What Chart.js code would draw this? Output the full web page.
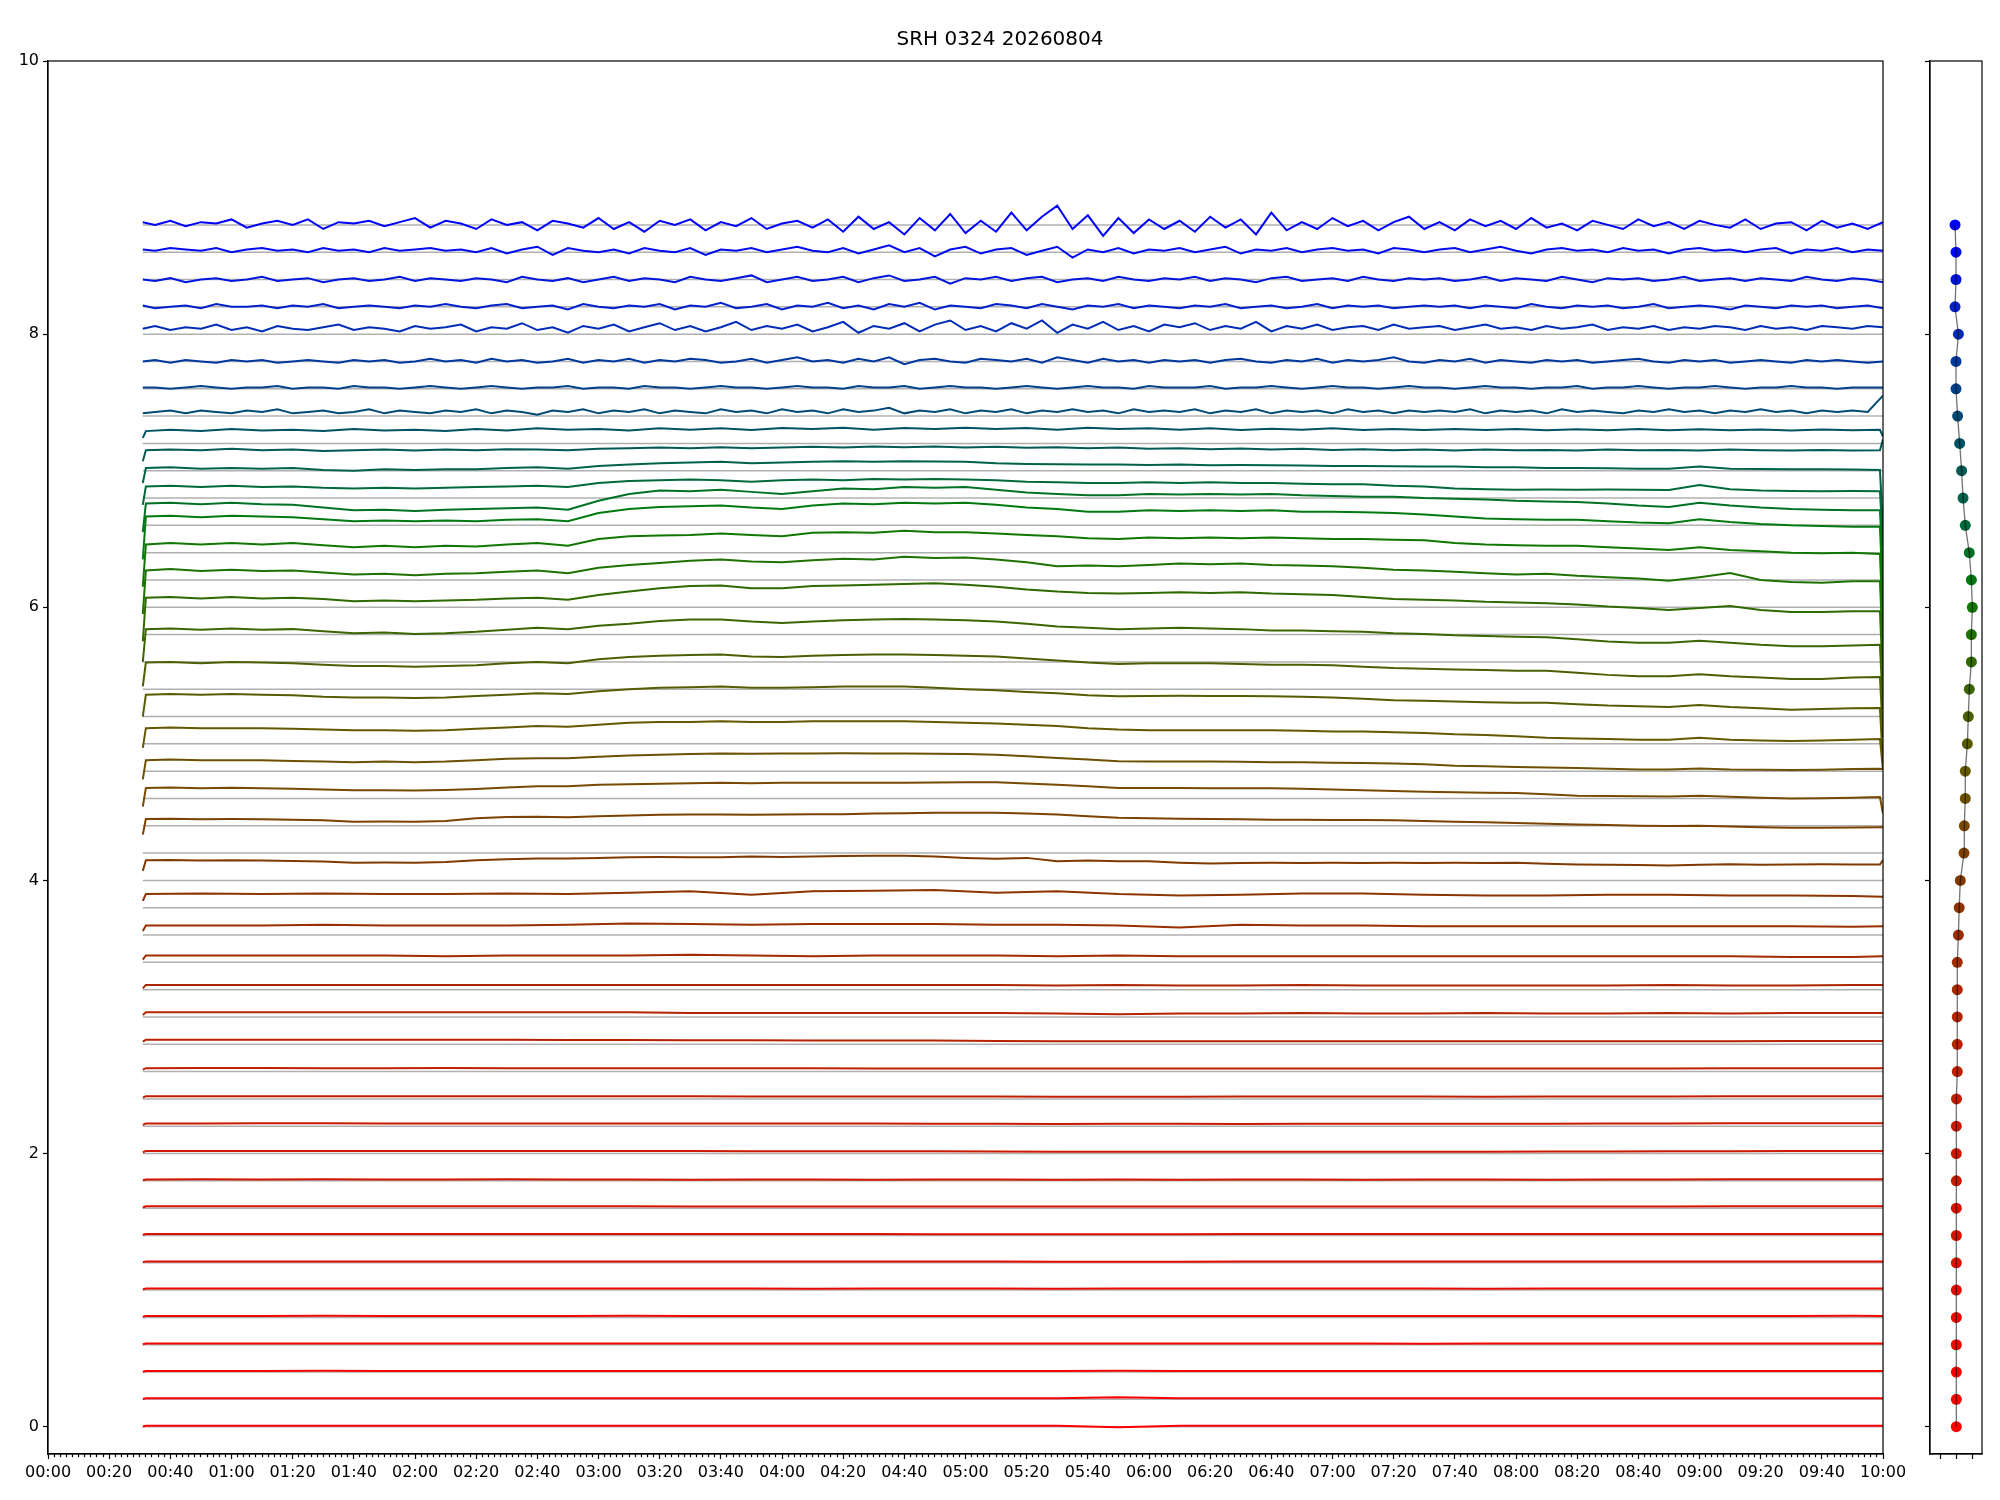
<!DOCTYPE html>
<html>
<head>
<meta charset="utf-8">
<title>SRH 0324 20260804</title>
<script src="https://cdn.jsdelivr.net/npm/chart.js@4.4.1/dist/chart.umd.min.js"></script>
<style>
  html, body { margin: 0; padding: 0; background: #fff; }
  #wrap { position: relative; width: 2000px; height: 1500px; }
  #main { position: absolute; left: 0; top: 0; width: 2000px; height: 1500px; }
  #side { position: absolute; left: 1900px; top: 0; width: 100px; height: 1500px; }
  #title { position: absolute; left: 0; top: 26px; width: 2000px; text-align: center;
           font-family: 'DejaVu Sans', sans-serif; font-size: 20px; line-height: 24px; color: #000; }
</style>
</head>
<body>
<div id="wrap">
  <canvas id="main" width="2000" height="1500"></canvas>
  <canvas id="side" width="100" height="1500"></canvas>
  <div id="title">SRH 0324 20260804</div>
</div>
<script>
// ---- data (minutes since 00:00) ----
const tickLabels = ["00:00","00:20","00:40","01:00","01:20","01:40","02:00","02:20","02:40","03:00",
  "03:20","03:40","04:00","04:20","04:40","05:00","05:20","05:40","06:00","06:20","06:40","07:00",
  "07:20","07:40","08:00","08:20","08:40","09:00","09:20","09:40","10:00"];
const yTicks = [0, 2, 4, 6, 8, 10];

// baseline of every trace (grey reference lines)
const levels = [0, 0.2, 0.4, 0.6, 0.8, 1.0, 1.2, 1.4, 1.6, 1.8, 2.0, 2.2, 2.4, 2.6, 2.8, 3.0, 3.2, 3.4, 3.6, 3.8,
  4.0, 4.2, 4.4, 4.6, 4.8, 5.0, 5.2, 5.4, 5.6, 5.8, 6.0, 6.2, 6.4, 6.6, 6.8, 7.0, 7.2, 7.4, 7.6, 7.8,
  8.0, 8.2, 8.4, 8.6, 8.8];

// x position of the dots in the side panel
const dotX = [0.02, 0.02, 0.02, 0.02, 0.02, 0.02, 0.02, 0.02, 0.02, 0.02, 0.02, 0.02, 0.03, 0.08, 0.08,
  0.08, 0.08, 0.08, 0.15, 0.2, 0.27, 0.5, 0.52, 0.58, 0.58, 0.71, 0.77, 0.83, 0.96, 0.96, 1.02, 0.96,
  0.83, 0.58, 0.44, 0.35, 0.23, 0.1, 0.0, 0.0, 0.15, -0.06, 0.0, 0.0, -0.06];

// lower traces: offsets from baseline in 1/100
const tLow = [31, 32, 50, 70, 90, 110, 130, 150, 170, 190, 210, 230, 250, 270, 290, 310, 330, 350, 370, 390,
  410, 430, 450, 470, 490, 510, 530, 550, 570, 590, 600];
const low00 = [0.2, 0.6, 0.6, 0.6, 0.6, 0.6, 0.6, 0.6, 0.6, 0.6, 0.6, 0.6, 0.6, 0.6, 0.6, 0.6, 0.6, -0.4, 0.6, 0.6, 0.6, 0.6, 0.6, 0.6, 0.6, 0.6, 0.6, 0.6, 0.6, 0.7, 0.7];
const low02 = [0.3, 0.8, 0.8, 0.8, 0.8, 0.8, 0.8, 0.8, 0.8, 0.8, 0.8, 0.8, 0.8, 0.8, 0.8, 0.8, 0.9, 1.5, 0.8, 0.8, 0.8, 0.8, 0.8, 0.8, 0.8, 0.8, 0.8, 0.8, 0.8, 0.9, 0.9];
const low04 = [0.3, 0.8, 0.8, 0.8, 0.9, 0.8, 0.8, 0.8, 0.8, 0.8, 0.8, 0.8, 0.8, 0.8, 0.8, 0.8, 0.8, 0.9, 0.8, 0.8, 0.8, 0.8, 0.8, 0.8, 0.8, 0.8, 0.8, 0.8, 0.8, 0.8, 0.8];
const low06 = [0.3, 0.9, 0.9, 1, 0.9, 0.9, 0.9, 0.9, 1, 0.9, 0.9, 0.9, 0.9, 0.9, 0.9, 0.9, 0.9, 0.9, 0.9, 0.9, 0.9, 0.9, 0.8, 0.9, 0.9, 0.9, 0.9, 0.9, 0.9, 0.9, 0.9];
const low08 = [0.5, 1.1, 1.1, 1.1, 1.2, 1.1, 1.1, 1.1, 1.1, 1.2, 1.1, 1.1, 1.1, 1, 1.1, 1.1, 1, 1.1, 1.1, 1.1, 1.1, 1, 1.1, 1.1, 1.1, 1.1, 1.1, 1.1, 1.1, 1.2, 1.1];
const low10 = [0.5, 1.1, 1.1, 1.2, 1.1, 1.1, 1.1, 1.2, 1.1, 1.1, 1.1, 1.1, 1, 1.1, 1.1, 1.1, 1, 1.1, 1.1, 1.1, 1.1, 1.1, 1.1, 1, 1.1, 1.1, 1.1, 1.1, 1.2, 1.1, 1.1];
const low12 = [0.5, 0.9, 0.9, 0.9, 0.9, 0.9, 0.9, 0.9, 0.9, 0.9, 0.9, 0.9, 0.9, 0.9, 0.9, 0.9, 0.8, 0.8, 0.8, 0.9, 0.9, 0.9, 0.9, 0.9, 0.9, 0.9, 0.9, 0.9, 0.9, 0.9, 0.9];
const low14 = [0.5, 1, 1, 1, 1.1, 1, 1, 1, 1, 1, 1, 1, 1, 1, 0.9, 0.9, 0.9, 0.9, 0.9, 1, 1, 1, 1, 1, 1, 1, 1, 1, 1, 1, 1];
const low16 = [0.5, 1.4, 1.4, 1.4, 1.4, 1.4, 1.4, 1.4, 1.4, 1.4, 1.3, 1.3, 1.3, 1.3, 1.3, 1.3, 1.2, 1.2, 1.2, 1.3, 1.3, 1.2, 1.3, 1.3, 1.3, 1.3, 1.3, 1.4, 1.4, 1.4, 1.4];
const low18 = [0.5, 1, 1.1, 1, 1.1, 1, 1, 1.1, 1, 1, 0.9, 1, 1, 0.9, 1, 1, 0.9, 1, 0.9, 1, 1, 0.9, 1, 1, 0.9, 1, 1, 1.1, 1.2, 1.2, 1.2];
const low20 = [1, 1.8, 1.8, 1.8, 1.8, 1.8, 1.8, 1.8, 1.8, 1.8, 1.8, 1.7, 1.7, 1.6, 1.6, 1.5, 1.4, 1.4, 1.4, 1.4, 1.4, 1.4, 1.4, 1.4, 1.5, 1.5, 1.6, 1.7, 1.8, 1.8, 1.9];
const low22 = [1, 2, 2, 2.2, 2.2, 2, 2, 2, 2, 2, 2, 2, 2, 2, 1.9, 1.8, 1.7, 1.8, 1.8, 1.7, 1.8, 1.8, 1.8, 1.8, 1.9, 2, 2, 2.1, 2.2, 2.2, 2.2];
const low24 = [1, 2, 2, 2, 2, 2, 2, 2, 2, 2, 2, 1.8, 1.8, 1.8, 1.8, 1.7, 1.6, 1.6, 1.6, 1.7, 1.7, 1.7, 1.7, 1.6, 1.7, 1.7, 1.8, 1.9, 2, 2, 2];
const low26 = [1.5, 2.5, 2.6, 2.6, 2.5, 2.5, 2.6, 2.5, 2.4, 2.5, 2.5, 2.4, 2.4, 2.3, 2.3, 2.3, 2.2, 2.2, 2.2, 2.2, 2.2, 2.3, 2.2, 2.2, 2.3, 2.3, 2.3, 2.4, 2.5, 2.5, 2.5];
const low28 = [2, 3.3, 3.3, 3.3, 3.3, 3.3, 3.3, 3.3, 3.2, 3.2, 3, 3, 2.8, 2.8, 2.7, 2.5, 2.3, 2.2, 2.2, 2.3, 2.2, 2.2, 2.2, 2.3, 2.2, 2.3, 2.3, 2.3, 2.4, 2.5, 2.5];
const low30 = [1.5, 3.5, 3.5, 3.5, 3.5, 3.5, 3.5, 3.5, 3.5, 3.5, 3, 3, 3, 3, 3, 3, 2.5, 2, 2.5, 2.5, 3, 2.5, 2.5, 3, 2.5, 2.5, 3, 2.5, 3, 3, 3];
const low32 = [1, 3.5, 3.5, 3.5, 3.5, 3.5, 3.5, 3.5, 3.5, 3.5, 3.5, 3.5, 3.5, 3.5, 3.5, 3.5, 3, 3.5, 3, 3, 3.5, 3, 3, 3, 3, 3, 3.5, 3, 3, 3.5, 3.5];
const low34 = [2, 5, 5, 5, 5, 5, 4.5, 5, 5, 5, 5.5, 5, 4.5, 5, 5, 5, 4.5, 5, 4.5, 4.5, 4.5, 4.5, 4.5, 4.5, 4.5, 4.5, 4.5, 4.5, 4, 4, 4.5];
const low36 = [3, 7, 7, 7, 7.5, 7, 7, 7, 7.5, 8.5, 8, 7.5, 8, 8, 8, 7.5, 7.5, 7, 5.5, 7.5, 7, 7, 6.5, 6.5, 6.5, 6.5, 6.5, 6.5, 6.5, 6, 6.5];
const low38 = [5, 10, 10.5, 10, 10.5, 10, 10, 10.5, 10, 11, 12, 9.5, 12, 12.5, 13, 11, 12, 10, 9, 9.5, 10.5, 10.5, 9.5, 9, 9, 9.5, 9.5, 9, 9, 8.5, 8];

// middle traces: values
const tMid = [31, 32, 40, 50, 60, 70, 80, 90, 100, 110,
  120, 130, 140, 150, 160, 170, 180, 190, 200, 210,
  220, 230, 240, 250, 260, 270, 280, 290, 300, 310,
  320, 330, 340, 350, 360, 370, 380, 390, 400, 410,
  420, 430, 440, 450, 460, 470, 480, 490, 500, 510,
  520, 530, 540, 550, 560, 570, 580, 590, 599, 600];
const mid40 = [4.07, 4.148, 4.15, 4.146, 4.148, 4.145, 4.142, 4.138, 4.13, 4.132,
  4.13, 4.135, 4.148, 4.155, 4.16, 4.16, 4.165, 4.17, 4.172, 4.17,
  4.17, 4.175, 4.172, 4.175, 4.178, 4.18, 4.18, 4.175, 4.165, 4.158,
  4.165, 4.14, 4.145, 4.14, 4.14, 4.13, 4.123, 4.128, 4.13, 4.128,
  4.13, 4.128, 4.13, 4.128, 4.13, 4.128, 4.13, 4.122, 4.117, 4.115,
  4.113, 4.11, 4.115, 4.118, 4.115, 4.116, 4.118, 4.116, 4.116, 4.15];
const mid42 = [4.335, 4.45, 4.452, 4.448, 4.45, 4.448, 4.445, 4.44, 4.43, 4.432,
  4.43, 4.435, 4.455, 4.465, 4.466, 4.462, 4.47, 4.475, 4.48, 4.483,
  4.483, 4.48, 4.483, 4.485, 4.485, 4.49, 4.492, 4.495, 4.496, 4.495,
  4.49, 4.482, 4.47, 4.458, 4.455, 4.452, 4.45, 4.448, 4.445, 4.445,
  4.443, 4.442, 4.44, 4.435, 4.43, 4.425, 4.42, 4.415, 4.41, 4.405,
  4.40, 4.398, 4.40, 4.395, 4.39, 4.385, 4.386, 4.388, 4.39, 4.39];
const mid44 = [4.54, 4.677, 4.68, 4.675, 4.678, 4.675, 4.672, 4.665, 4.66, 4.66,
  4.658, 4.662, 4.67, 4.68, 4.69, 4.69, 4.70, 4.705, 4.708, 4.712,
  4.715, 4.712, 4.715, 4.716, 4.715, 4.716, 4.715, 4.717, 4.718, 4.718,
  4.71, 4.70, 4.69, 4.677, 4.676, 4.676, 4.675, 4.675, 4.675, 4.672,
  4.665, 4.66, 4.654, 4.65, 4.645, 4.642, 4.64, 4.63, 4.62, 4.618,
  4.616, 4.615, 4.62, 4.612, 4.605, 4.60, 4.602, 4.605, 4.61, 4.49];
const mid46 = [4.74, 4.88, 4.885, 4.88, 4.88, 4.88, 4.875, 4.87, 4.865, 4.87,
  4.865, 4.87, 4.88, 4.89, 4.895, 4.895, 4.905, 4.915, 4.92, 4.925,
  4.93, 4.928, 4.93, 4.93, 4.932, 4.93, 4.93, 4.928, 4.925, 4.92,
  4.91, 4.897, 4.885, 4.872, 4.87, 4.87, 4.87, 4.868, 4.865, 4.865,
  4.862, 4.86, 4.856, 4.85, 4.84, 4.836, 4.83, 4.826, 4.824, 4.818,
  4.812, 4.812, 4.82, 4.812, 4.81, 4.808, 4.81, 4.815, 4.817, 4.815];
const mid48 = [4.97, 5.115, 5.12, 5.115, 5.115, 5.115, 5.11, 5.105, 5.10, 5.10,
  5.095, 5.10, 5.11, 5.12, 5.13, 5.125, 5.14, 5.155, 5.16, 5.16,
  5.165, 5.16, 5.16, 5.165, 5.165, 5.165, 5.165, 5.16, 5.155, 5.149,
  5.14, 5.13, 5.115, 5.105, 5.10, 5.10, 5.10, 5.10, 5.10, 5.095,
  5.09, 5.09, 5.085, 5.08, 5.07, 5.065, 5.055, 5.045, 5.04, 5.035,
  5.03, 5.03, 5.045, 5.03, 5.025, 5.02, 5.025, 5.03, 5.036, 4.81];
const mid50 = [5.20, 5.36, 5.365, 5.36, 5.365, 5.36, 5.355, 5.345, 5.34, 5.34,
  5.335, 5.34, 5.35, 5.36, 5.37, 5.365, 5.385, 5.40, 5.41, 5.415,
  5.42, 5.41, 5.41, 5.415, 5.42, 5.42, 5.42, 5.41, 5.40, 5.392,
  5.38, 5.37, 5.355, 5.348, 5.35, 5.352, 5.35, 5.35, 5.348, 5.345,
  5.34, 5.33, 5.32, 5.315, 5.31, 5.305, 5.30, 5.30, 5.29, 5.28,
  5.275, 5.27, 5.285, 5.27, 5.26, 5.25, 5.255, 5.26, 5.263, 4.85];
const mid52 = [5.42, 5.595, 5.60, 5.59, 5.60, 5.595, 5.59, 5.58, 5.57, 5.57,
  5.565, 5.57, 5.575, 5.59, 5.60, 5.59, 5.62, 5.635, 5.645, 5.65,
  5.655, 5.64, 5.635, 5.645, 5.65, 5.655, 5.655, 5.65, 5.645, 5.64,
  5.625, 5.61, 5.595, 5.585, 5.59, 5.59, 5.59, 5.585, 5.58, 5.58,
  5.575, 5.565, 5.555, 5.55, 5.545, 5.54, 5.535, 5.535, 5.52, 5.505,
  5.495, 5.495, 5.51, 5.495, 5.485, 5.475, 5.475, 5.485, 5.49, 5.05];
const mid54 = [5.60, 5.84, 5.845, 5.835, 5.845, 5.835, 5.84, 5.825, 5.81, 5.815,
  5.805, 5.81, 5.82, 5.835, 5.85, 5.84, 5.865, 5.88, 5.90, 5.91,
  5.91, 5.895, 5.885, 5.895, 5.905, 5.91, 5.915, 5.91, 5.905, 5.895,
  5.88, 5.86, 5.85, 5.84, 5.845, 5.85, 5.845, 5.84, 5.83, 5.83,
  5.825, 5.82, 5.81, 5.805, 5.795, 5.79, 5.785, 5.78, 5.765, 5.75,
  5.74, 5.74, 5.755, 5.74, 5.725, 5.715, 5.715, 5.72, 5.725, 5.25];
const mid56 = [5.75, 6.07, 6.075, 6.065, 6.075, 6.065, 6.07, 6.06, 6.045, 6.05,
  6.045, 6.05, 6.055, 6.065, 6.07, 6.055, 6.09, 6.115, 6.14, 6.155,
  6.16, 6.14, 6.14, 6.155, 6.16, 6.165, 6.17, 6.175, 6.165, 6.15,
  6.13, 6.115, 6.105, 6.10, 6.105, 6.11, 6.105, 6.11, 6.10, 6.095,
  6.09, 6.075, 6.06, 6.055, 6.05, 6.04, 6.035, 6.03, 6.02, 6.005,
  5.995, 5.98, 5.995, 6.01, 5.98, 5.965, 5.965, 5.97, 5.97, 5.45];
const mid58 = [5.95, 6.27, 6.28, 6.265, 6.275, 6.265, 6.27, 6.255, 6.24, 6.245,
  6.235, 6.245, 6.25, 6.26, 6.27, 6.25, 6.29, 6.31, 6.325, 6.34,
  6.35, 6.335, 6.33, 6.345, 6.355, 6.35, 6.37, 6.36, 6.365, 6.35,
  6.33, 6.30, 6.305, 6.30, 6.31, 6.32, 6.315, 6.32, 6.31, 6.305,
  6.30, 6.29, 6.275, 6.27, 6.26, 6.25, 6.24, 6.245, 6.23, 6.22,
  6.21, 6.195, 6.22, 6.25, 6.20, 6.185, 6.18, 6.19, 6.19, 5.65];
const mid60 = [6.15, 6.46, 6.47, 6.46, 6.47, 6.46, 6.47, 6.455, 6.44, 6.45,
  6.44, 6.45, 6.445, 6.46, 6.47, 6.45, 6.50, 6.52, 6.525, 6.53,
  6.54, 6.53, 6.52, 6.545, 6.55, 6.545, 6.56, 6.55, 6.55, 6.54,
  6.53, 6.52, 6.505, 6.50, 6.51, 6.505, 6.51, 6.505, 6.51, 6.505,
  6.50, 6.50, 6.495, 6.49, 6.47, 6.46, 6.455, 6.45, 6.45, 6.44,
  6.43, 6.42, 6.44, 6.42, 6.41, 6.40, 6.395, 6.40, 6.39, 5.85];
const mid62 = [6.35, 6.665, 6.67, 6.66, 6.67, 6.665, 6.66, 6.645, 6.63, 6.635,
  6.63, 6.635, 6.63, 6.64, 6.645, 6.63, 6.69, 6.72, 6.735, 6.74,
  6.745, 6.73, 6.72, 6.745, 6.76, 6.755, 6.765, 6.76, 6.765, 6.75,
  6.73, 6.72, 6.70, 6.70, 6.71, 6.705, 6.71, 6.705, 6.71, 6.70,
  6.70, 6.695, 6.69, 6.68, 6.665, 6.65, 6.645, 6.64, 6.64, 6.63,
  6.62, 6.615, 6.645, 6.625, 6.61, 6.60, 6.595, 6.59, 6.59, 6.05];
const mid64 = [6.55, 6.76, 6.765, 6.755, 6.765, 6.755, 6.75, 6.73, 6.71, 6.715,
  6.705, 6.715, 6.72, 6.725, 6.73, 6.715, 6.78, 6.83, 6.855, 6.85,
  6.86, 6.845, 6.83, 6.85, 6.87, 6.865, 6.88, 6.875, 6.88, 6.86,
  6.84, 6.83, 6.82, 6.82, 6.83, 6.825, 6.83, 6.825, 6.83, 6.82,
  6.815, 6.81, 6.81, 6.80, 6.795, 6.79, 6.78, 6.775, 6.77, 6.76,
  6.745, 6.735, 6.765, 6.745, 6.73, 6.72, 6.715, 6.71, 6.71, 6.25];
const mid66 = [6.75, 6.885, 6.89, 6.88, 6.89, 6.88, 6.885, 6.875, 6.87, 6.875,
  6.87, 6.875, 6.88, 6.885, 6.89, 6.88, 6.91, 6.925, 6.93, 6.935,
  6.93, 6.92, 6.93, 6.935, 6.93, 6.94, 6.935, 6.94, 6.935, 6.93,
  6.92, 6.915, 6.91, 6.91, 6.915, 6.91, 6.915, 6.91, 6.91, 6.905,
  6.90, 6.90, 6.89, 6.885, 6.87, 6.865, 6.86, 6.862, 6.86, 6.862,
  6.86, 6.858, 6.895, 6.865, 6.855, 6.852, 6.85, 6.852, 6.85, 6.45];
const mid68 = [6.91, 7.02, 7.025, 7.015, 7.02, 7.015, 7.02, 7.005, 7.0, 7.01,
  7.005, 7.01, 7.01, 7.02, 7.025, 7.015, 7.035, 7.045, 7.055, 7.06,
  7.065, 7.055, 7.06, 7.065, 7.07, 7.065, 7.07, 7.068, 7.065, 7.055,
  7.05, 7.048, 7.045, 7.045, 7.042, 7.045, 7.04, 7.042, 7.04, 7.038,
  7.035, 7.035, 7.032, 7.03, 7.03, 7.025, 7.025, 7.02, 7.02, 7.018,
  7.015, 7.015, 7.03, 7.015, 7.012, 7.01, 7.01, 7.008, 7.005, 6.57];
const mid70 = [7.07, 7.15, 7.155, 7.15, 7.16, 7.15, 7.155, 7.145, 7.15, 7.155,
  7.148, 7.155, 7.15, 7.158, 7.155, 7.15, 7.16, 7.165, 7.17, 7.165,
  7.172, 7.165, 7.17, 7.175, 7.17, 7.178, 7.172, 7.178, 7.17, 7.175,
  7.168, 7.172, 7.165, 7.17, 7.16, 7.165, 7.158, 7.162, 7.155, 7.16,
  7.152, 7.158, 7.15, 7.155, 7.148, 7.155, 7.15, 7.152, 7.148, 7.155,
  7.15, 7.152, 7.148, 7.155, 7.15, 7.148, 7.152, 7.148, 7.15, 7.23];
const mid72 = [7.24, 7.29, 7.30, 7.29, 7.305, 7.295, 7.30, 7.29, 7.305, 7.295,
  7.30, 7.29, 7.305, 7.295, 7.31, 7.30, 7.305, 7.295, 7.31, 7.30,
  7.31, 7.298, 7.312, 7.305, 7.315, 7.30, 7.312, 7.305, 7.315, 7.305,
  7.312, 7.30, 7.315, 7.305, 7.31, 7.30, 7.31, 7.298, 7.308, 7.30,
  7.31, 7.298, 7.305, 7.298, 7.306, 7.298, 7.305, 7.296, 7.304, 7.297,
  7.305, 7.296, 7.303, 7.296, 7.302, 7.295, 7.302, 7.296, 7.30, 7.25];

// upper (noisy) traces: offsets from baseline in 1/100
const tTop = [31, 35, 40, 45, 50, 55, 60, 65, 70, 75, 80, 85, 90, 95, 100, 105, 110, 115, 120, 125, 130,
  135, 140, 145, 150, 155, 160, 165, 170, 175, 180, 185, 190, 195, 200, 205, 210, 215, 220, 225, 230, 235, 240, 245, 250,
  255, 260, 265, 270, 275, 280, 285, 290, 295, 300, 305, 310,
  315, 320, 325, 330, 335, 340, 345, 350, 355, 360, 365,
  370, 375, 380, 385, 390, 395, 400, 405, 410, 415, 420, 425, 430, 435, 440, 445, 450,
  455, 460, 465, 470, 475, 480, 485, 490, 495, 500, 505, 510, 515, 520, 525, 530, 535, 540, 545, 550,
  555, 560, 565, 570, 575, 580, 585, 590, 595, 600];
const top74 = [2, 3, 4, 2, 4, 3, 2, 4, 3, 5, 2, 3, 4, 2, 3, 5, 2, 4, 3, 2, 4,
  3, 5, 2, 4, 3, 1, 4, 3, 5, 2, 4, 3, 5, 2, 4, 3, 2, 5, 3, 4, 2, 5, 3, 4,
  2, 5, 3, 4, 6, 2, 4, 3, 5, 2, 4, 3,
  5, 2, 4, 3, 5, 3, 4, 2, 5, 3, 4,
  3, 5, 2, 4, 3, 5, 2, 4, 3, 4, 2, 5, 3, 4, 2, 4, 3,
  4, 3, 5, 2, 4, 3, 4, 2, 5, 3, 4, 3, 2, 4, 3, 5, 3, 4, 2, 4, 3, 5, 3, 4, 2, 4, 3, 4, 3, 15];
const top76 = [1, 1, 0, 1, 2, 1, 0, 1, 1, 2, 0, 1, 1, 0, 2, 1, 1, 0, 1, 2, 1,
  0, 1, 2, 1, 0, 1, 1, 2, 0, 1, 1, 0, 2, 1, 1, 0, 1, 2, 1, 1, 0, 1, 2, 1,
  1, 0, 2, 1, 1, 2, 0, 1, 2, 1, 1, 0,
  1, 2, 1, 0, 1, 2, 1, 1, 0, 2, 1,
  1, 1, 2, 0, 1, 1, 2, 1, 0, 1, 2, 1, 1, 0, 1, 2, 1,
  1, 0, 1, 2, 1, 1, 0, 1, 1, 2, 0, 1, 1, 2, 1, 0, 1, 1, 2, 1, 0, 1, 1, 2, 1, 1, 0, 1, 1, 1];
const top78 = [0, 1, -1, 1, 0, -1, 1, 0, 1, -1, 0, 1, 0, -1, 1, 0, 1, -1, 0, 2, 0,
  1, -1, 2, 0, 1, -1, 0, 2, -1, 1, 0, 2, -1, 1, 0, 2, 1, -1, 0, 2, -1, 1, 3, 0,
  1, -1, 2, 0, 3, -2, 1, 2, 0, -1, 2, 1,
  0, 2, -1, 3, 1, -1, 2, 0, 1, -1, 1,
  0, 1, -1, 1, 2, 0, -1, 1, 0, 2, -1, 1, 0, 1, 3, 0, -1,
  1, 0, 2, -1, 1, 0, -1, 1, 0, 1, -1, 0, 1, 2, 0, -1, 1, 0, 1, -1, 0, 1, 0, -1, 1, 0, 1, 0, -1, 0];
const top80 = [4, 6, 3, 5, 4, 7, 3, 5, 2, 6, 4, 3, 5, 7, 3, 5, 4, 2, 6, 4, 5,
  7, 2, 5, 4, 8, 3, 5, 1, 6, 4, 7, 2, 5, 8, 3, 6, 2, 5, 9, 3, 6, 4, 7, 2,
  5, 9, 1, 6, 4, 8, 2, 7, 10, 3, 6, 2,
  8, 4, 10, 1, 7, 4, 9, 3, 6, 2, 7,
  5, 8, 3, 6, 4, 9, 2, 6, 4, 7, 3, 5, 6, 3, 7, 4, 5,
  6, 3, 5, 7, 4, 5, 3, 6, 4, 5, 7, 3, 5, 4, 6, 3, 5, 4, 6, 5, 3, 6, 4, 5, 3, 6, 5, 4, 6, 5];
const top82 = [1, -1, 0, 1, -1, 2, 0, 0, 1, -1, 1, 0, 2, -1, 0, 1, 0, -1, 1, 0, 2,
  0, -1, 1, 2, -1, 0, 1, -2, 2, 0, -1, 1, 0, 2, -2, 1, 0, 3, -1, 0, 2, -2, 1, 0,
  3, -1, 1, -2, 2, 0, 3, -2, 1, 0, -1, 2,
  1, -1, 2, 0, -2, 1, 0, 2, -1, 1, 0,
  -1, 1, 0, 2, -1, 0, 1, -1, 0, 2, -1, 1, 0, 1, -1, 0, 1,
  0, 1, -1, 1, 0, -1, 2, 0, -1, 1, 0, 1, -1, 0, 2, -1, 0, 1, 0, -2, 1, 0, -1, 1, 0, 1, -1, 0, 1, -1];
const top84 = [0, -1, 1, -2, 0, 1, -1, 0, 2, -1, 0, 1, -2, 0, 1, -1, 0, 2, -1, 1, 0,
  -1, 1, 0, -2, 2, 0, -1, 1, -2, 0, 2, -1, 1, 0, -2, 2, 0, -1, 1, 3, -2, 0, 2, -1,
  0, 2, -2, 1, 3, -1, 0, 2, -3, 1, 0, 2,
  -1, 1, 2, -2, 0, 1, -1, 2, 0, -1, 1,
  0, 2, -1, 1, 0, -2, 1, 2, -1, 0, 1, -1, 2, 0, -1, 1, 0,
  1, -1, 0, 2, -1, 1, 0, -1, 2, 0, -2, 1, 0, 1, -1, 0, 2, -1, 0, 1, -1, 1, 0, -1, 2, 0, -1, 1, 0, -2];
const top86 = [2, 1, 3, 2, 1, 3, 0, 2, 3, 1, 2, 0, 3, 1, 2, 0, 3, 1, 2, 3, 1,
  2, 0, 3, -1, 2, 4, -2, 3, 1, 0, 2, -1, 3, 1, 0, 3, -2, 2, 1, 3, 0, 2, 4, 1,
  0, 3, -1, 2, 5, 0, 3, -3, 2, 4, -1, 2,
  3, -2, 1, 4, -4, 2, 0, 3, -1, 2, 1,
  3, 0, 2, 4, -1, 2, 1, 3, 0, 2, 3, 1, 2, -1, 3, 2, 0,
  2, 3, 0, 2, 4, 1, -1, 2, 3, 1, 2, 0, 3, 1, 2, -1, 2, 3, 1, 2, 0, 2, 3, -1, 2, 1, 3, 0, 2, 1];
const top88 = [2, 0, 3, -1, 2, 1, 4, -2, 1, 3, 0, 4, -3, 2, 1, 3, -1, 2, 5, -2, 3,
  1, -3, 4, 0, 2, -4, 3, 1, -2, 5, -3, 2, -5, 3, 0, 4, -4, 2, -1, 5, -3, 1, 3, -2,
  4, -5, 6, -3, 2, -7, 5, -4, 8, -6, 3, -5,
  9, -4, 6, 14, -3, 7, -8, 5, -6, 4, -3,
  3, -5, 6, -2, 4, -7, 9, -4, 2, -3, 5, -1, 3, -4, 2, 6, -3,
  2, -4, 4, -1, 3, -3, 5, -2, 1, -4, 3, 0, -3, 4, -1, 2, -3, 3, 0, -2, 4, -3, 1, 2, -4, 3, -2, 1, -3, 2];

// ---- build ----
const lowRows = [low00, low02, low04, low06, low08, low10, low12, low14, low16, low18,
  low20, low22, low24, low26, low28, low30, low32, low34, low36, low38];
const midRows = [mid40, mid42, mid44, mid46, mid48, mid50, mid52, mid54, mid56, mid58,
  mid60, mid62, mid64, mid66, mid68, mid70, mid72];
const topRows = [top74, top76, top78, top80, top82, top84, top86, top88];

// colour along the traces, red -> green -> blue
const colorStops = [
  [0.0, 255, 0, 0], [1.0, 232, 10, 0], [2.0, 205, 25, 0], [3.0, 180, 36, 0], [3.6, 155, 46, 0],
  [4.0, 128, 58, 0], [4.4, 120, 74, 0], [4.8, 100, 88, 0], [5.2, 74, 96, 0], [5.6, 46, 106, 0],
  [6.0, 16, 120, 0], [6.2, 0, 122, 16], [6.6, 0, 106, 58], [7.0, 0, 90, 85], [7.4, 0, 74, 117],
  [7.8, 0, 56, 160], [8.2, 0, 32, 204], [8.8, 0, 0, 255]
];
function colorFor(v) {
  for (let k = 1; k < colorStops.length; k++) {
    const a = colorStops[k - 1], b = colorStops[k];
    if (v <= b[0] + 1e-9) {
      const f = (v - a[0]) / (b[0] - a[0]);
      const c = [1, 2, 3].map(j => Math.round(a[j] + (b[j] - a[j]) * f));
      return "rgb(" + c.join(",") + ")";
    }
  }
  return "rgb(0,0,255)";
}

function points(times, vals, base, scale) {
  if (times.length !== vals.length) console.warn("length mismatch", base, times.length, vals.length);
  return times.map((t, k) => ({ x: t, y: base + vals[k] * scale }));
}

const traces = [];
lowRows.forEach((row, k) => traces.push(points(tLow, row, levels[k], 0.01)));
midRows.forEach((row, k) => traces.push(points(tMid, row, 0, 1)));
topRows.forEach((row, k) => traces.push(points(tTop, row, levels[20 + midRows.length + k], 0.01)));

const tStart = tTop[0], tEnd = tTop[tTop.length - 1];
const datasets = [];
levels.forEach((lv, i) => {
  datasets.push({
    data: [{ x: tStart, y: lv }, { x: tEnd, y: lv }],
    borderColor: "rgba(150,150,150,0.75)",
    borderWidth: 1.5,
    pointRadius: 0,
    order: 2
  });
});
traces.forEach((pts, i) => {
  datasets.push({
    data: pts,
    borderColor: colorFor(levels[i]),
    borderWidth: 2,
    pointRadius: 0,
    tension: 0,
    order: 1
  });
});

Chart.defaults.font.family = "'DejaVu Sans', sans-serif";
Chart.defaults.color = "#000";

const frame = {
  id: "frame",
  afterDraw(chart) {
    const a = chart.chartArea, ctx = chart.ctx;
    ctx.save();
    ctx.strokeStyle = "#000";
    ctx.lineWidth = 1.2;
    ctx.strokeRect(a.left, a.top, a.right - a.left, a.bottom - a.top);
    ctx.restore();
  }
};

function hhmm(v) {
  return v % 20 === 0 ? tickLabels[v / 20] : "";
}

new Chart(document.getElementById("main"), {
  type: "line",
  data: { datasets: datasets },
  options: {
    responsive: false,
    animation: false,
    devicePixelRatio: 1,
    layout: { padding: { left: 0, right: 117, top: 61, bottom: 0 } },
    plugins: {
      legend: { display: false },
      tooltip: { enabled: false }
    },
    scales: {
      x: {
        type: "linear",
        min: 0,
        max: 600,
        afterBuildTicks(scale) {
          const t = [];
          for (let v = 0; v <= 600; v += 2) t.push({ value: v });
          scale.ticks = t;
        },
        afterFit(scale) { scale.height = 46; },
        ticks: {
          autoSkip: false,
          maxRotation: 0,
          padding: 4,
          font: { size: 16 },
          callback: v => hhmm(v)
        },
        grid: {
          drawOnChartArea: false,
          tickLength: 5,
          tickColor: "#000",
          tickWidth: 1.2,
          tickBorderDash: ctx => (ctx.tick && ctx.tick.value % 20 === 0) ? [] : [3, 40]
        },
        border: { display: true, color: "#000", width: 1.2 }
      },
      y: {
        min: -0.2,
        max: 10,
        afterBuildTicks(scale) { scale.ticks = yTicks.map(v => ({ value: v })); },
        afterFit(scale) { scale.width = 48; },
        ticks: { padding: 4, font: { size: 16 }, callback: v => String(v) },
        grid: { drawOnChartArea: false, tickLength: 5, tickColor: "#000", tickWidth: 1.2 },
        border: { display: true, color: "#000", width: 1.2 }
      }
    }
  },
  plugins: [frame]
});

// ---- side panel ----
const dotPts = levels.map((lv, i) => ({ x: dotX[i], y: lv }));
new Chart(document.getElementById("side"), {
  type: "scatter",
  data: {
    datasets: [
      {
        data: dotPts,
        showLine: true,
        borderColor: "rgba(0,0,0,0.55)",
        borderWidth: 1.3,
        pointRadius: 0,
        order: 0
      },
      {
        data: dotPts,
        showLine: false,
        pointRadius: 5.5,
        pointBorderWidth: 0,
        pointBackgroundColor: levels.map(lv => colorFor(lv)),
        order: 1
      }
    ]
  },
  options: {
    responsive: false,
    animation: false,
    devicePixelRatio: 1,
    layout: { padding: { left: 0, right: 18, top: 61, bottom: 0 } },
    plugins: { legend: { display: false }, tooltip: { enabled: false } },
    scales: {
      x: {
        type: "linear",
        min: -1.625,
        max: 1.625,
        afterBuildTicks(scale) { scale.ticks = [-1, 0, 1].map(v => ({ value: v })); },
        afterFit(scale) { scale.height = 46; },
        ticks: { display: false },
        grid: { drawOnChartArea: false, tickLength: 5, tickColor: "#000", tickWidth: 1.2 },
        border: { display: true, color: "#000", width: 1.2 }
      },
      y: {
        min: -0.2,
        max: 10,
        afterBuildTicks(scale) { scale.ticks = yTicks.map(v => ({ value: v })); },
        afterFit(scale) { scale.width = 30; },
        ticks: { display: false },
        grid: { drawOnChartArea: false, tickLength: 5, tickColor: "#000", tickWidth: 1.2 },
        border: { display: true, color: "#000", width: 1.2 }
      }
    }
  },
  plugins: [frame]
});
</script>
</body>
</html>
